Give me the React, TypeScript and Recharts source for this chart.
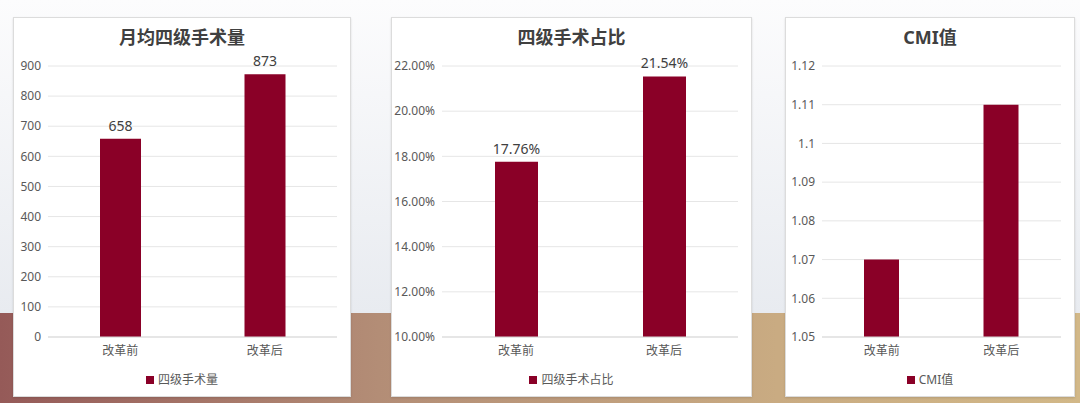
import React from 'react';
import {
  BarChart, Bar, XAxis, YAxis, CartesianGrid, Legend, LabelList
} from 'recharts';

// categories and values
const categories = ['改革前', '改革后'];
const surgeryCount = [658, 873];
const surgeryShare = [17.76, 21.54];
const cmiValues = [1.07, 1.11];

const countTicks = [0, 100, 200, 300, 400, 500, 600, 700, 800, 900];
const shareTicks = [10, 12, 14, 16, 18, 20, 22];
const cmiTicks = [1.05, 1.06, 1.07, 1.08, 1.09, 1.1, 1.11, 1.12];

const FONT = '"Noto Sans", "Noto Sans CJK SC", sans-serif';
const BAR_COLOR = '#8a0027';
const TEXT_GRAY = '#595959';

interface PanelProps {
  title: string;
  seriesName: string;
  values: number[];
  ticks: number[];
  left: number;
  width: number;
  yAxisWidth: number;
  barSize: number;
  showLabels: boolean;
  format: (v: number) => string;
}

const Panel: React.FC<PanelProps> = ({
  title, seriesName, values, ticks, left, width, yAxisWidth, barSize, showLabels, format
}) => {
  const data = categories.map((c, i) => ({ name: c, value: values[i] }));
  const inner = width - 2;
  return (
    <div style={{
      position: 'absolute', left, top: 17, width, height: 380, boxSizing: 'border-box',
      background: '#fff', border: '1px solid #dcdcdc', boxShadow: '0 1px 2px rgba(0,0,0,0.12)'
    }}>
      <div style={{
        position: 'absolute', left: 0, top: 6, width: inner, textAlign: 'center',
        fontFamily: FONT, fontWeight: 700, fontSize: 18, color: '#404040', lineHeight: '26px'
      }}>{title}</div>
      <BarChart
        width={inner}
        height={378}
        data={data}
        margin={{ top: 48, right: 13, left: 0, bottom: 9 }}
        style={{ fontFamily: FONT }}
      >
        <CartesianGrid vertical={false} stroke="#e6e6e6" />
        <XAxis
          dataKey="name"
          height={30}
          tickLine={false}
          tickSize={0}
          tickMargin={9}
          axisLine={{ stroke: '#d9d9d9' }}
          tick={{ fill: TEXT_GRAY, fontSize: 12 }}
        />
        <YAxis
          width={yAxisWidth}
          domain={[ticks[0], ticks[ticks.length - 1]]}
          ticks={ticks}
          interval={0}
          axisLine={false}
          tickLine={false}
          tickSize={0}
          tickMargin={7}
          tickFormatter={format}
          tick={{ fill: TEXT_GRAY, fontSize: 12 }}
        />
        <Legend
          iconType="square"
          iconSize={8}
          height={20}
          wrapperStyle={{ left: 5, width: inner }}
          formatter={(v) => <span style={{ color: TEXT_GRAY, fontSize: 12 }}>{v}</span>}
        />
        <Bar dataKey="value" name={seriesName} fill={BAR_COLOR} barSize={barSize} isAnimationActive={false}>
          {showLabels && (
            <LabelList dataKey="value" position="top" offset={8} fill="#404040" fontSize={14} formatter={(v: any) => format(Number(v))} />
          )}
        </Bar>
      </BarChart>
    </div>
  );
};

export default function App() {
  return (
    <div style={{ position: 'absolute', left: 0, top: 0, width: 1080, height: 403, overflow: 'hidden' }}>
      <div style={{
        position: 'absolute', left: 0, top: 0, width: 1080, height: 313,
        background: 'linear-gradient(180deg, #fcfcfd 0%, #e8ebf0 100%)'
      }} />
      <div style={{
        position: 'absolute', left: 0, top: 313, width: 1080, height: 90,
        background: 'linear-gradient(90deg, #955a58 0%, #b38d76 35%, #c9ab82 72%, #d2b888 100%)'
      }} />
      <Panel
        title="月均四级手术量" seriesName="四级手术量" values={surgeryCount} ticks={countTicks}
        left={13} width={338} yAxisWidth={34} barSize={41} showLabels
        format={(v) => String(v)}
      />
      <Panel
        title="四级手术占比" seriesName="四级手术占比" values={surgeryShare} ticks={shareTicks}
        left={391} width={361} yAxisWidth={50} barSize={43} showLabels
        format={(v) => v.toFixed(2) + '%'}
      />
      <Panel
        title="CMI值" seriesName="CMI值" values={cmiValues} ticks={cmiTicks}
        left={785} width={290} yAxisWidth={36} barSize={35} showLabels={false}
        format={(v) => String(Number(v.toFixed(2)))}
      />
    </div>
  );
}
